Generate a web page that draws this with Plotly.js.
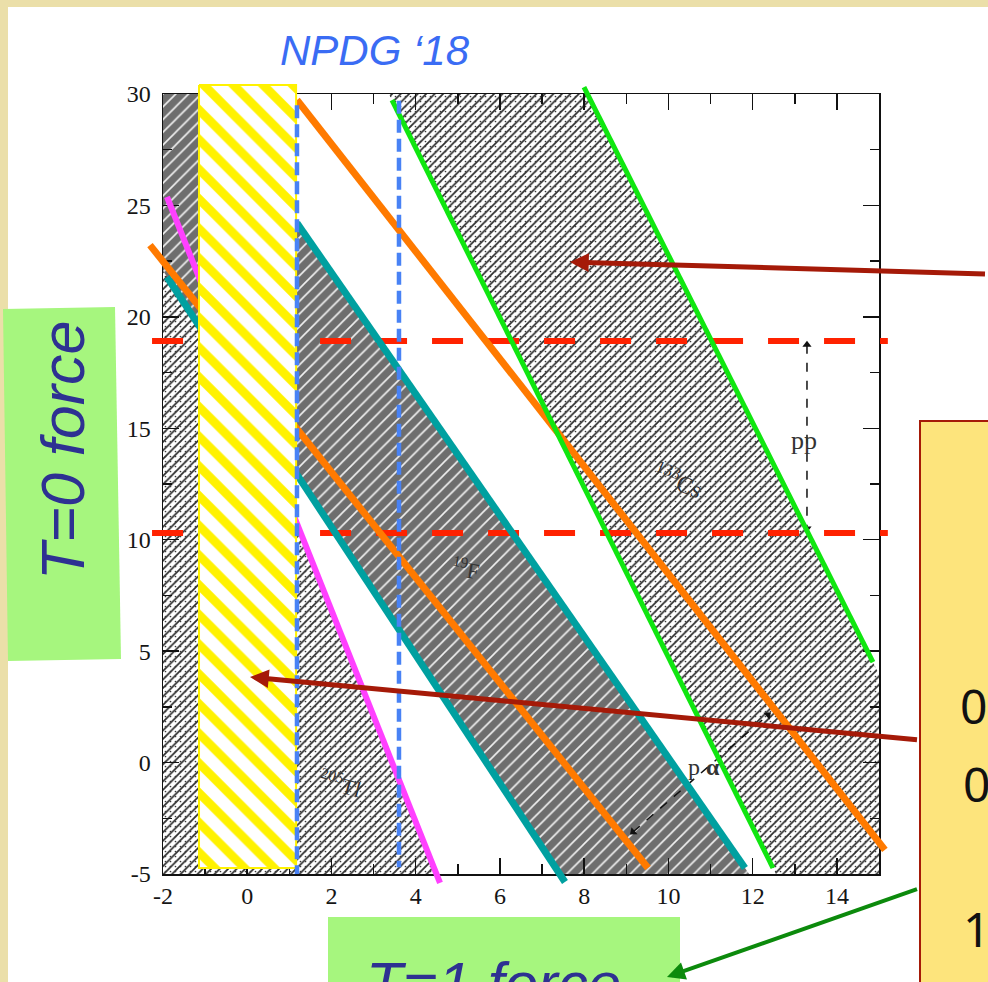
<!DOCTYPE html>
<html><head><meta charset="utf-8">
<script src="https://cdn.plot.ly/plotly-3.0.1.min.js"></script>
<style>html,body{margin:0;padding:0;background:#fff;}#chart{width:988px;height:982px;}</style>
</head><body><div id="chart"></div>
<script>
// ---- tick labels ----
const xTickVals = [-2, 0, 2, 4, 6, 8, 10, 12, 14];
const xTickText = ['-2', '0', '2', '4', '6', '8', '10', '12', '14'];
const yTickVals = [-5, 0, 5, 10, 15, 20, 25, 30];
const yTickText = ['-5', '0', '5', '10', '15', '20', '25', '30'];

// ---- constraint lines (end points) ----
const tlEdgeX = [-1.905, 4.577];  const tlEdgeY = [25.38, -5.40];   // 205Tl (magenta)
const fLowX  = [-1.905, 7.544];   const fLowY  = [21.79, -5.36];    // 18F lower edge (teal)
const fUpX   = [1.181, 11.818];   const fUpY   = [24.21, -4.73];    // 18F upper edge (teal)
const paLowX = [-2.309, 9.515];   const paLowY = [23.22, -4.73];    // p-alpha lower edge (orange)
const paUpX  = [1.181, 15.14];    const paUpY  = [29.73, -3.92];    // p-alpha upper edge (orange)
const csLowX = [3.437, 12.482];   const csLowY = [29.73, -4.73];    // 133Cs lower edge (green)
const csUpX  = [7.995, 14.857];   const csUpY  = [30.31, 4.51];     // 133Cs upper edge (green)
const ppX = [-2.26, 15.21];       const ppLowY = [10.30, 10.30];    const ppHighY = [18.92, 18.92]; // pp band (red)
const npdgAX = [1.181, 1.181];    const npdgAY = [29.5, -5.0];      // NPDG '18 (blue dashed)
const npdgBX = [3.603, 3.603];    const npdgBY = [29.7, -4.7];
const boxX = [-1.145, 1.16, 1.16, -1.145, -1.145];                  // new h1pi box (yellow)
const boxY = [30.40, 30.40, -4.73, -4.73, 30.40];

// ---- shaded bands of the original figure ----
const tlBandX = [-3.93, 4.70, -4, -4];           const tlBandY = [35, -6, -6, 35];
const csBandX = [2.054, 12.815, 17.65, 6.748];   const csBandY = [35, -6, -6, 35];
const fBandX  = [-2.785, 12.285, 7.767, -6.50];  const fBandY  = [35, -6, -6, 35];

// ---- measurement arrows of the original figure ----
const ppArrX = [13.29, 13.29];   const ppArrY = [18.75, 10.5];
const paArrX = [9.159, 12.364];  const paArrY = [-3.115, 2.135];

const PX = x => x / 988, PY = y => 1 - y / 982;

const lightHatch = {shape: '/', bgcolor: '#ffffff', fgcolor: '#2a2a2a', size: 6, solidity: 0.28};
const dots = {shape: '.', bgcolor: 'rgba(0,0,0,0)', fgcolor: '#3a3a3a', size: 5, solidity: 0.09};

const traces = [
  {x: tlBandX, y: tlBandY, xaxis: 'x', yaxis: 'y', mode: 'none', fill: 'toself', fillpattern: lightHatch},
  {x: tlBandX, y: tlBandY, xaxis: 'x', yaxis: 'y', mode: 'none', fill: 'toself', fillpattern: dots},
  {x: csBandX, y: csBandY, xaxis: 'x', yaxis: 'y', mode: 'none', fill: 'toself', fillpattern: lightHatch},
  {x: csBandX, y: csBandY, xaxis: 'x', yaxis: 'y', mode: 'none', fill: 'toself', fillpattern: dots},
  {x: fBandX, y: fBandY, xaxis: 'x', yaxis: 'y', mode: 'none', fill: 'toself',
   fillpattern: {shape: '/', bgcolor: '#6e6e6e', fgcolor: '#f0f0f0', size: 9, solidity: 0.18}},
  {x: ppArrX, y: ppArrY, xaxis: 'x', yaxis: 'y', mode: 'lines+markers',
   line: {color: '#111', width: 1.5, dash: 'dash'},
   marker: {symbol: ['triangle-up', 'triangle-down'], size: 8, color: '#111'}},
  {x: paArrX, y: paArrY, xaxis: 'x', yaxis: 'y', mode: 'lines+markers',
   line: {color: '#111', width: 1.5, dash: 'dash'},
   marker: {symbol: 'triangle-up', angle: [229, 49], size: 8, color: '#111'}},
  // overlay lines (full-page axes, not clipped to the frame)
  {x: ppX, y: ppHighY, xaxis: 'x2', yaxis: 'y2', mode: 'lines', line: {color: '#ff2200', width: 6, dash: '31px,25px'}},
  {x: ppX, y: ppLowY, xaxis: 'x2', yaxis: 'y2', mode: 'lines', line: {color: '#ff2200', width: 6, dash: '31px,25px'}},
  {x: tlEdgeX, y: tlEdgeY, xaxis: 'x2', yaxis: 'y2', mode: 'lines', line: {color: '#ff40ff', width: 6}},
  {x: fLowX, y: fLowY, xaxis: 'x2', yaxis: 'y2', mode: 'lines', line: {color: '#00a0a0', width: 7}},
  {x: fUpX, y: fUpY, xaxis: 'x2', yaxis: 'y2', mode: 'lines', line: {color: '#00a0a0', width: 7}},
  {x: paLowX, y: paLowY, xaxis: 'x2', yaxis: 'y2', mode: 'lines', line: {color: '#ff7a00', width: 7}},
  {x: paUpX, y: paUpY, xaxis: 'x2', yaxis: 'y2', mode: 'lines', line: {color: '#ff7a00', width: 7}},
  {x: csLowX, y: csLowY, xaxis: 'x2', yaxis: 'y2', mode: 'lines', line: {color: '#10e610', width: 5}},
  {x: csUpX, y: csUpY, xaxis: 'x2', yaxis: 'y2', mode: 'lines', line: {color: '#10e610', width: 5}},
  {x: boxX, y: boxY, xaxis: 'x2', yaxis: 'y2', mode: 'lines', fill: 'toself',
   line: {color: '#fff200', width: 2},
   fillpattern: {shape: '\\', bgcolor: '#ffffff', fgcolor: '#fff200', size: 21, solidity: 0.42}},
  {x: npdgAX, y: npdgAY, xaxis: 'x2', yaxis: 'y2', mode: 'lines', line: {color: '#4882f5', width: 4.5, dash: '13px,6px'}},
  {x: npdgBX, y: npdgBY, xaxis: 'x2', yaxis: 'y2', mode: 'lines', line: {color: '#4882f5', width: 4.5, dash: '13px,6px'}}
];

const tickFont = {family: 'Liberation Serif', size: 24, color: '#151515'};
const scanFont = {family: 'Liberation Serif', size: 24, color: '#333'};

const layout = {
  width: 988, height: 982,
  margin: {l: 0, r: 0, t: 0, b: 0, pad: 0},
  paper_bgcolor: '#ebdfa9',
  plot_bgcolor: 'rgba(0,0,0,0)',
  showlegend: false,
  xaxis: {domain: [163 / 988, 879 / 988], range: [-2, 15], anchor: 'y',
    showgrid: false, zeroline: false, showline: true, linecolor: '#111', linewidth: 1.5, mirror: 'allticks',
    ticks: 'inside', ticklen: 16, tickwidth: 1.5, tickcolor: '#111',
    tickmode: 'array', tickvals: xTickVals, ticktext: xTickText, tickfont: tickFont, ticklabelstandoff: 0,
    minor: {dtick: 1, tick0: 0, ticks: 'inside', ticklen: 10, tickwidth: 1.5, tickcolor: '#111', showgrid: false}},
  yaxis: {domain: [108 / 982, 888 / 982], range: [-5, 30], anchor: 'x',
    showgrid: false, zeroline: false, showline: true, linecolor: '#111', linewidth: 1.5, mirror: 'allticks',
    ticks: 'inside', ticklen: 16, tickwidth: 1.5, tickcolor: '#111',
    tickmode: 'array', tickvals: yTickVals, ticktext: yTickText, tickfont: tickFont, ticklabelstandoff: 6,
    minor: {dtick: 2.5, tick0: 0, ticks: 'inside', ticklen: 9, tickwidth: 1.5, tickcolor: '#111', showgrid: false}},
  xaxis2: {domain: [0, 1], range: [-5.8701, 17.588], anchor: 'y2', visible: false},
  yaxis2: {domain: [0, 1], range: [-9.846, 34.218], anchor: 'x2', visible: false},
  shapes: [
    {type: 'rect', xref: 'paper', yref: 'paper', x0: PX(8), x1: 1, y0: 0, y1: PY(7),
     fillcolor: '#ffffff', line: {width: 0}, layer: 'below'},
    {type: 'path', xref: 'paper', yref: 'paper', layer: 'above',
     path: `M ${PX(3)} ${PY(309)} L ${PX(115)} ${PY(307)} L ${PX(121)} ${PY(659)} L ${PX(8)} ${PY(661)} Z`,
     fillcolor: '#a6f67e', line: {width: 0}},
    {type: 'rect', xref: 'paper', yref: 'paper', layer: 'above', x0: PX(328), x1: PX(680), y0: PY(995), y1: PY(917),
     fillcolor: '#a6f67e', line: {width: 0}},
    {type: 'rect', xref: 'paper', yref: 'paper', layer: 'above', x0: PX(920), x1: PX(1000), y0: PY(1000), y1: PY(421),
     fillcolor: '#fde47c', line: {color: '#a51a08', width: 2}}
  ],
  annotations: [
    {xref: 'paper', yref: 'paper', x: PX(375), y: PY(25), text: '<i>NPDG ‘18</i>', showarrow: false,
     font: {family: 'Liberation Sans', size: 42, color: '#3a6cf4'}},
    {xref: 'paper', yref: 'paper', x: PX(27), y: PY(451), text: '<i>T=0 force</i>', textangle: -90, showarrow: false,
     font: {family: 'Liberation Sans', size: 61, color: '#2e3192'}},
    {xref: 'paper', yref: 'paper', x: PX(364), y: PY(948), xanchor: 'left', yanchor: 'top', text: '<i>T=1 force</i>', showarrow: false,
     font: {family: 'Liberation Sans', size: 60, color: '#2e3192'}},
    {xref: 'paper', yref: 'paper', x: PX(958), y: PY(740), xanchor: 'left', text: '0<sup>+</sup>1', showarrow: false,
     font: {family: 'Noto Sans', size: 48, color: '#111'}},
    {xref: 'paper', yref: 'paper', x: PX(961), y: PY(818), xanchor: 'left', text: '0<sup>−</sup>0', showarrow: false,
     font: {family: 'Noto Sans', size: 48, color: '#111'}},
    {xref: 'paper', yref: 'paper', x: PX(961), y: PY(963), xanchor: 'left', text: '1<sup>+</sup>0', showarrow: false,
     font: {family: 'Noto Sans', size: 48, color: '#111'}},
    // labels of the original figure
    {xref: 'paper', yref: 'paper', x: PX(819), y: PY(441), text: 'pp', showarrow: false, font: {family: 'Liberation Serif', size: 26, color: '#333'}},
    {xref: 'paper', yref: 'paper', x: PX(710), y: PY(480), text: '<sup>133</sup>Cs', textangle: 22, showarrow: false, font: scanFont},
    {xref: 'paper', yref: 'paper', x: PX(466), y: PY(568), text: '<sup>19</sup>F', textangle: 10, showarrow: false, font: {family: 'Liberation Serif', size: 22, color: '#333'}},
    {xref: 'paper', yref: 'paper', x: PX(340), y: PY(805), text: '<sup>205</sup>Tl', textangle: 15, showarrow: false, font: {family: 'Liberation Serif', size: 22, color: '#333'}},
    {xref: 'paper', yref: 'paper', x: PX(722), y: PY(782), text: 'p <b>α</b>', showarrow: false, font: scanFont},
    // pointer arrows
    {xref: 'paper', yref: 'paper', x: PX(570), y: PY(262), ax: 418, ay: 12, text: ' ', showarrow: true,
     arrowhead: 2, arrowsize: 0.75, arrowwidth: 5, arrowcolor: '#a51a08'},
    {xref: 'paper', yref: 'paper', x: PX(250), y: PY(677), ax: 670, ay: 63, text: ' ', showarrow: true,
     arrowhead: 2, arrowsize: 0.75, arrowwidth: 5, arrowcolor: '#a51a08'},
    {xref: 'paper', yref: 'paper', x: PX(667), y: PY(977), ax: 253, ay: -89, text: ' ', showarrow: true,
     arrowhead: 2, arrowsize: 0.9, arrowwidth: 4, arrowcolor: '#0c8a0c'}
  ]
};

Plotly.newPlot('chart', traces, layout, {staticPlot: true, displayModeBar: false});
</script>
</body></html>
